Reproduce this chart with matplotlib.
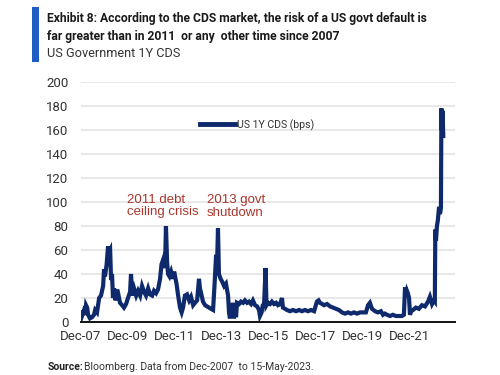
import matplotlib
matplotlib.use("Agg")
import matplotlib.pyplot as plt
from matplotlib.patches import Rectangle

# ---------------- data ----------------
years = [2007.92, 2007.96, 2008.03, 2008.09, 2008.13, 2008.18, 2008.22, 2008.30, 2008.39, 2008.47,
         2008.52, 2008.60, 2008.69, 2008.77, 2008.86, 2008.90, 2008.94, 2009.01, 2009.07, 2009.11,
         2009.16, 2009.20, 2009.24, 2009.28, 2009.33, 2009.39, 2009.46, 2009.50, 2009.58, 2009.67,
         2009.75, 2009.84, 2009.92, 2010.01, 2010.05, 2010.10, 2010.18, 2010.27, 2010.35, 2010.44,
         2010.52, 2010.61, 2010.69, 2010.78, 2010.86, 2010.95, 2011.03, 2011.12, 2011.20, 2011.29,
         2011.35, 2011.42, 2011.50, 2011.54, 2011.59, 2011.63, 2011.69, 2011.76, 2011.84, 2011.89,
         2011.93, 2011.99, 2012.06, 2012.14, 2012.21, 2012.27, 2012.35, 2012.44, 2012.53, 2012.61,
         2012.70, 2012.78, 2012.87, 2012.95, 2012.99, 2013.04, 2013.12, 2013.21, 2013.29, 2013.38,
         2013.46, 2013.55, 2013.61, 2013.68, 2013.72, 2013.76, 2013.80, 2013.87, 2013.93, 2014.02,
         2014.10, 2014.19, 2014.23, 2014.27, 2014.32, 2014.36, 2014.40, 2014.44, 2014.49, 2014.53,
         2014.57, 2014.66, 2014.74, 2014.83, 2014.91, 2015.00, 2015.08, 2015.17, 2015.25, 2015.34,
         2015.43, 2015.51, 2015.55, 2015.62, 2015.68, 2015.72, 2015.79, 2015.83, 2015.89, 2015.98,
         2016.06, 2016.15, 2016.24, 2016.32, 2016.41, 2016.49, 2016.53, 2016.62, 2016.70, 2016.83,
         2016.96, 2017.09, 2017.22, 2017.34, 2017.47, 2017.60, 2017.73, 2017.86, 2017.98, 2018.05,
         2018.11, 2018.20, 2018.28, 2018.41, 2018.54, 2018.67, 2018.79, 2018.92, 2019.05, 2019.18,
         2019.31, 2019.43, 2019.56, 2019.69, 2019.82, 2019.95, 2020.07, 2020.16, 2020.24, 2020.33,
         2020.46, 2020.58, 2020.71, 2020.80, 2020.88, 2020.97, 2021.10, 2021.22, 2021.35, 2021.48,
         2021.61, 2021.69, 2021.74, 2021.78, 2021.82, 2021.86, 2021.91, 2021.95, 2022.00, 2022.08,
         2022.20, 2022.33, 2022.46, 2022.59, 2022.72, 2022.80, 2022.89, 2022.97, 2023.01, 2023.03,
         2023.06, 2023.10, 2023.14, 2023.19, 2023.23, 2023.27, 2023.29, 2023.31, 2023.34, 2023.37]

cds_bps = [8, 5, 9, 6, 14, 12, 6, 3, 4, 6,
           10, 8, 20, 22, 30, 44, 38, 48, 63, 58,
           60, 35, 40, 20, 28, 18, 27, 24, 16, 14,
           12, 15, 20, 25, 40, 22, 28, 22, 26, 22,
           30, 25, 22, 28, 23, 22, 26, 24, 27, 36,
           48, 52, 45, 80, 50, 40, 38, 42, 36, 42,
           38, 32, 22, 12, 8, 12, 22, 23, 18, 21,
           14, 16, 18, 36, 28, 24, 17, 14, 13, 12,
           11, 10, 30, 56, 48, 78, 40, 36, 34, 30,
           32, 22, 8, 3, 15, 4, 16, 3, 15, 4,
           16, 15, 17, 16, 18, 16, 17, 15, 18, 14,
           13, 10, 5, 8, 15, 12, 45, 14, 16, 15,
           17, 15, 16, 14, 15, 20, 12, 11, 10, 9,
           10, 9, 10, 9, 10, 9, 10, 9, 17, 18,
           16, 15, 14, 15, 13, 12, 11, 10, 8, 7,
           8, 7, 8, 7, 8, 8, 8, 14, 16, 11,
           9, 8, 9, 6, 7, 6, 5, 6, 5, 5,
           5, 6, 29, 22, 26, 24, 20, 6, 9, 10,
           12, 11, 14, 13, 17, 21, 15, 18, 17, 77,
           68, 80, 85, 96, 90, 95, 178, 160, 176, 155]

tick_labels = ["Dec-07", "Dec-09", "Dec-11", "Dec-13", "Dec-15", "Dec-17", "Dec-19", "Dec-21"]
tick_years = [2007 + 11 / 12 + 2 * i for i in range(len(tick_labels))]
y_ticks = [0, 20, 40, 60, 80, 100, 120, 140, 160, 180, 200]

series_name = "US 1Y CDS (bps)"
title_line1 = "Exhibit 8: According to the CDS market, the risk of a US govt default is"
title_line2 = "far greater than in 2011  or any  other time since 2007"
subtitle = "US Government 1Y CDS"
annot1 = "2011 debt\nceiling crisis"
annot2 = "2013 govt\nshutdown"

# ---------------- style ----------------
W, H = 500, 375
plt.rcParams["font.family"] = ["Roboto", "DejaVu Sans"]

navy = "#0e2a6c"
red = "#a8362c"
txt = "#333333"

fig = plt.figure(figsize=(5, 3.75), dpi=100)
fig.patch.set_facecolor("white")

ax = fig.add_axes([81 / W, 1 - 322 / H, (455 - 81) / W, (322 - 82) / H])
ax.plot(years, cds_bps, color=navy, lw=3.0, solid_joinstyle="miter", label=series_name)

ax.set_ylim(0, 200)
ax.set_xlim(2007 + 11 / 12, 2023.87)
ax.set_yticks(y_ticks)
ax.set_xticks(tick_years)
ax.set_xticklabels(tick_labels)
for yv in y_ticks[1:]:
    ax.axhline(yv, color="#e6e6e6", lw=1.3, zorder=0)
for s in ["top", "right", "left"]:
    ax.spines[s].set_visible(False)
ax.spines["bottom"].set_color("#111111")
ax.spines["bottom"].set_linewidth(1.4)
ax.tick_params(axis="both", length=0, labelsize=9.5, colors=txt)
ax.tick_params(axis="y", pad=9)
ax.tick_params(axis="x", pad=6)

ax.text(2009.88, 107, annot1, color=red, fontsize=9.5, va="top", ha="left",
        linespacing=1.1, family=["Liberation Sans", "DejaVu Sans"])
ax.text(2013.28, 107, annot2, color=red, fontsize=9.5, va="top", ha="left",
        linespacing=1.1, family=["Liberation Sans", "DejaVu Sans"])

leg = ax.legend(loc="center left", bbox_to_anchor=(200 / W, 1 - 125 / H),
                bbox_transform=fig.transFigure, frameon=False, fontsize=7.6,
                handlelength=3.3, handletextpad=0.2, borderpad=0, borderaxespad=0)
for t in leg.get_texts():
    t.set_color(txt)
for l in leg.get_lines():
    l.set_linewidth(3.5)

# blue bar
fig.add_artist(Rectangle((32 / W, 1 - 62 / H), 7 / W, 55 / H, transform=fig.transFigure,
                         color="#1f5cc4", lw=0))
fig.text(47 / W, 1 - 12 / H, title_line1, fontsize=8.7, fontweight="bold", color="#1a1a1a",
         va="top", ha="left")
fig.text(47 / W, 1 - 30 / H, title_line2, fontsize=8.7, fontweight="bold", color="#1a1a1a",
         va="top", ha="left")
fig.text(47 / W, 1 - 47 / H, subtitle, fontsize=9.2, color="#333333", va="top", ha="left")

fig.text(48 / W, 1 - 367 / H, "Source:", fontsize=7.5, fontweight="bold", color="#222222",
         va="center", ha="left")
fig.text(84 / W, 1 - 367 / H, "Bloomberg. Data from Dec-2007  to 15-May-2023.", fontsize=7.5,
         color="#333333", va="center", ha="left")

fig.savefig("out.png", dpi=100, facecolor="white")
